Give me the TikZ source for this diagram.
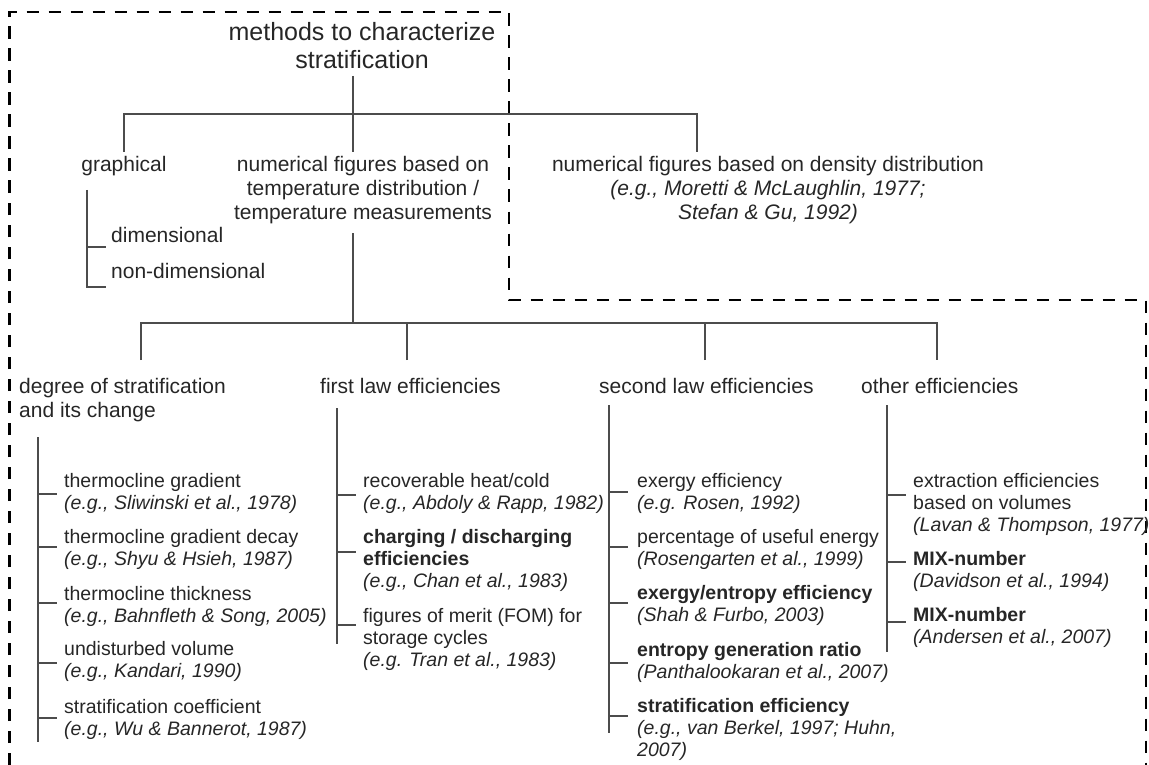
\documentclass[tikz,border=0pt]{standalone}
\usepackage{fontspec}
\setmainfont{Liberation Sans}
\usetikzlibrary{positioning}

\tikzset{
  tline/.style={line width=1.2pt, draw=black!70},
  frame/.style={line width=2.6pt, dash pattern=on 12.5pt off 9.5pt},
  title/.style={font=\fontsize{25}{28}\selectfont, align=center, inner sep=0, text=black!85},
  head/.style={font=\fontsize{21}{24}\selectfont, inner sep=0, text=black!85},
  item/.style={font=\fontsize{19.5}{22}\selectfont, align=left, inner sep=0, anchor=north west, text=black!85}
}

\begin{document}
\begin{tikzpicture}[x=1pt,y=-1pt]
\useasboundingbox (0,0) rectangle (1149,765);
% dashed outline
\draw[frame] (9.5,765) -- (9.5,12) -- (509,12) -- (509,300) -- (1146,300) -- (1146,765);

% top levels
\node[title, anchor=north] (meth) at (362,22) {methods to characterize\\stratification};
\node[head, anchor=north] (graph) at (124,156) {graphical};
\node[head, anchor=north, align=center] (tnum) at (363,156) {numerical figures based on\\temperature distribution /\\temperature measurements};
\node[head, anchor=north, align=center] (dnum) at (768,156) {numerical figures based on density distribution\\\textit{(e.g., Moretti \& McLaughlin, 1977;}\\\textit{Stefan \& Gu, 1992)}};
\node[head, anchor=west] (dim) at (111,235) {dimensional};
\node[head, anchor=west] (nondim) at (111,271) {non-dimensional};

\coordinate (root) at (353,76);
\coordinate (bus1) at (353,114);
\coordinate (g1) at (124,152);
\coordinate (t1) at (353,152);
\coordinate (d1) at (697,152);
\draw[tline] (root) -- (bus1);
\draw[tline] (g1) |- (bus1) -| (d1);
\draw[tline] (bus1) -- (t1);

\coordinate (gb) at (87,190);
\coordinate (gt1) at (106,247);
\coordinate (gt2) at (106,287);
\draw[tline] (gb) |- (gt2);
\draw[tline] (gb |- gt1) -- (gt1);

% second level
\node[head, anchor=north west, align=left] (degr) at (19,378) {degree of stratification\\and its change};
\node[head, anchor=north west] (first) at (320,378) {first law efficiencies};
\node[head, anchor=north west] (second) at (599,378) {second law efficiencies};
\node[head, anchor=north west] (other) at (861,378) {other efficiencies};

\coordinate (t2) at (353,233);
\coordinate (bus2) at (353,323);
\coordinate (top1) at (141,360);
\coordinate (top2) at (407,360);
\coordinate (top3) at (705,360);
\coordinate (top4) at (937,360);
\draw[tline] (t2) -- (bus2);
\draw[tline] (top1) |- (bus2) -| (top4);
\draw[tline] (top2) -- (top2 |- bus2);
\draw[tline] (top3) -- (top3 |- bus2);

% degree of stratification
\coordinate (bar1) at (38,437);
\draw[tline] (bar1) -- (38,742);
\foreach \n/\y/\k/\t in {
  deg1/473/494/{thermocline gradient\\\textit{(e.g., Sliwinski et al., 1978)}},
  deg2/529/547/{thermocline gradient decay\\\textit{(e.g., Shyu \& Hsieh, 1987)}},
  deg3/586/603/{thermocline thickness\\\textit{(e.g., Bahnfleth \& Song, 2005)}},
  deg4/641/663/{undisturbed volume\\\textit{(e.g., Kandari, 1990)}},
  deg5/699/718/{stratification coefficient\\\textit{(e.g., Wu \& Bannerot, 1987)}}}{
  \node[item] (\n) at (64,\y) {\t};
  \coordinate (t\n) at (57,\k);
  \draw[tline] (bar1 |- t\n) -- (t\n);
}

% first law
\coordinate (bar2) at (337,408);
\draw[tline] (bar2) -- (337,644);
\foreach \n/\y/\k/\t in {
  fir1/473/495/{recoverable heat/cold\\\textit{(e.g., Abdoly \& Rapp, 1982)}},
  fir2/529/552/{\textbf{charging / discharging}\\\textbf{efficiencies}\\\textit{(e.g., Chan et al., 1983)}},
  fir3/608/625/{figures of merit (FOM) for\\storage cycles\\\textit{(e.g. Tran et al., 1983)}}}{
  \node[item] (\n) at (363,\y) {\t};
  \coordinate (t\n) at (356,\k);
  \draw[tline] (bar2 |- t\n) -- (t\n);
}

% second law
\coordinate (bar3) at (609,405);
\draw[tline] (bar3) -- (609,733);
\foreach \n/\y/\k/\t in {
  sec1/473/492/{exergy efficiency\\\textit{(e.g. Rosen, 1992)}},
  sec2/529/547/{percentage of useful energy\\\textit{(Rosengarten et al., 1999)}},
  sec3/585/603/{\textbf{exergy/entropy efficiency}\\\textit{(Shah \& Furbo, 2003)}},
  sec4/642/663/{\textbf{entropy generation ratio}\\\textit{(Panthalookaran et al., 2007)}},
  sec5/698/716/{\textbf{stratification efficiency}\\\textit{(e.g., van Berkel, 1997; Huhn,}\\\textit{2007)}}}{
  \node[item] (\n) at (637,\y) {\t};
  \coordinate (t\n) at (628,\k);
  \draw[tline] (bar3 |- t\n) -- (t\n);
}

% other
\coordinate (bar4) at (887,405);
\draw[tline] (bar4) -- (887,652);
\foreach \n/\y/\k/\t in {
  oth1/473/495/{extraction efficiencies\\based on volumes\\\textit{(Lavan \& Thompson, 1977)}},
  oth2/551/562/{\textbf{MIX-number}\\\textit{(Davidson et al., 1994)}},
  oth3/607/622/{\textbf{MIX-number}\\\textit{(Andersen et al., 2007)}}}{
  \node[item] (\n) at (913,\y) {\t};
  \coordinate (t\n) at (906,\k);
  \draw[tline] (bar4 |- t\n) -- (t\n);
}
\end{tikzpicture}
\end{document}
